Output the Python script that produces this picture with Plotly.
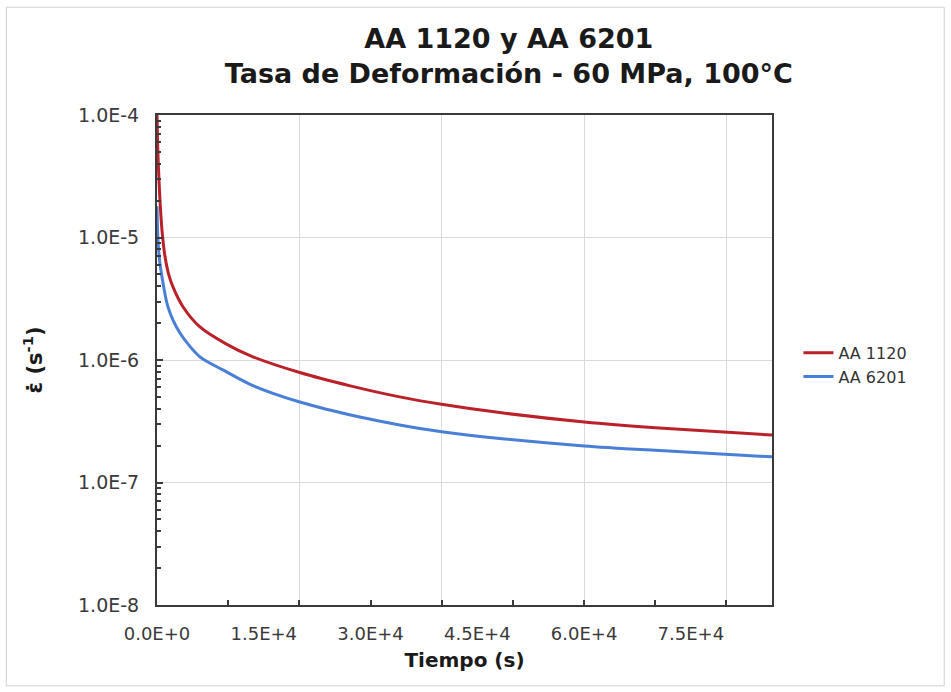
import plotly.graph_objects as go

# ---- data ----
t_1120 = [0, 100, 250, 421, 700, 1122, 1600, 2244, 3647, 6031, 9818, 13160, 20056, 27160,
          34081, 39972, 48160, 60028, 70000, 86400]
e_1120 = [1.0e-4, 5.5e-5, 3.2e-5, 2.0e-5, 1.15e-5, 7.0e-6, 5.1e-6, 3.95e-6, 2.72e-6, 1.86e-6,
          1.34e-6, 1.08e-6, 7.9e-7, 6.15e-7, 5.0e-7, 4.35e-7, 3.72e-7, 3.12e-7, 2.8e-7, 2.44e-7]

t_6201 = [0, 140, 400, 701, 1543, 3226, 6031, 9257, 13160, 20056, 28471, 34081, 39972,
          48160, 60028, 70000, 86400]
e_6201 = [1.8e-5, 9.5e-6, 6.2e-6, 4.76e-6, 2.71e-6, 1.66e-6, 1.06e-6, 8.3e-7, 6.3e-7, 4.54e-7,
          3.42e-7, 2.95e-7, 2.6e-7, 2.29e-7, 1.99e-7, 1.83e-7, 1.62e-7]

series_names = ["AA 1120", "AA 6201"]
series_colors = ["#BA2129", "#4A7FD6"]

x_range = [0, 86400]
x_label_vals = [0, 15000, 30000, 45000, 60000, 75000]
x_label_text = ["0.0E+0", "1.5E+4", "3.0E+4", "4.5E+4", "6.0E+4", "7.5E+4"]
x_tick_vals = [10000, 20000, 30000, 40000, 50000, 60000, 70000, 80000]
x_grid_vals = [20000, 40000, 60000, 80000]

y_tick_vals = [1e-8, 1e-7, 1e-6, 1e-5, 1e-4]
y_tick_text = ["1.0E-8", "1.0E-7", "1.0E-6", "1.0E-5", "1.0E-4"]
y_minor_vals = [m * d for d in [1e-8, 1e-7, 1e-6, 1e-5] for m in range(2, 10)]

FONT = "DejaVu Sans"
AXIS_COLOR = "#3a3a3a"
GRID_COLOR = "#DADADA"

fig = go.Figure()
for t, e, name, color in [(t_1120, e_1120, series_names[0], series_colors[0]),
                          (t_6201, e_6201, series_names[1], series_colors[1])]:
    fig.add_trace(go.Scatter(x=t, y=e, mode="lines", name=name,
                             line=dict(color=color, width=3, shape="spline", smoothing=0.8)))
# invisible trace to anchor the overlay axis that carries the small tick marks
fig.add_trace(go.Scatter(x=x_range, y=[1e-8, 1e-8], mode="lines", xaxis="x2",
                         line=dict(width=0), showlegend=False, hoverinfo="skip"))

fig.update_layout(
    width=951, height=692,
    margin=dict(l=157, r=179, t=115, b=87),
    paper_bgcolor="white", plot_bgcolor="white",
    font=dict(family=FONT, color="#333333", size=18),
    title=dict(text="<b>AA 1120 y AA 6201<br>Tasa de Deformación - 60 MPa, 100°C</b>",
               x=0.535, xref="container", xanchor="center",
               y=1 - 48 / 692, yref="container", yanchor="middle",
               font=dict(family=FONT, size=27, color="#1a1a1a")),
    xaxis=dict(range=x_range, tickvals=x_label_vals, ticktext=x_label_text,
               ticks="", showgrid=False, zeroline=False,
               showline=True, linecolor=AXIS_COLOR, linewidth=2, mirror=True,
               ticklabelstandoff=11,
               tickfont=dict(family=FONT, size=18, color="#3a3a3a"),
               minor=dict(tickvals=x_grid_vals, showgrid=True, gridcolor=GRID_COLOR,
                          gridwidth=1, ticks=""),
               title=dict(text="<b>Tiempo (s)</b>", standoff=10,
                          font=dict(family=FONT, size=20, color="#1a1a1a"))),
    xaxis2=dict(range=x_range, overlaying="x", side="bottom", anchor="y",
                tickvals=x_tick_vals, ticks="inside", ticklen=5, tickwidth=2,
                tickcolor=AXIS_COLOR, showticklabels=False, showgrid=False,
                zeroline=False, showline=False),
    yaxis=dict(type="log", range=[-8, -4], tickvals=y_tick_vals, ticktext=y_tick_text,
               ticks="inside", ticklen=6, tickwidth=1.5, tickcolor=AXIS_COLOR,
               showgrid=True, gridcolor=GRID_COLOR, gridwidth=1, zeroline=False,
               showline=True, linecolor=AXIS_COLOR, linewidth=2, mirror=True,
               ticklabelstandoff=12,
               tickfont=dict(family=FONT, size=19, color="#3a3a3a"),
               minor=dict(tickvals=y_minor_vals, ticks="inside", ticklen=4,
                          tickcolor=AXIS_COLOR, showgrid=False),
               title=dict(text="<b>ε̇ (s<sup>-1</sup>)</b>", standoff=30,
                          font=dict(family=FONT, size=21, color="#1a1a1a"))),
    legend=dict(x=1.043, y=0.49, xanchor="left", yanchor="middle",
                bgcolor="rgba(0,0,0,0)", borderwidth=0, tracegroupgap=0,
                itemwidth=30,
                font=dict(family=FONT, size=16, color="#333333")),
    shapes=[dict(type="rect", xref="paper", yref="paper",
                 x0=-0.245, x1=1.28, y0=-0.165, y1=1.22,
                 line=dict(color="#D0D0D0", width=1), fillcolor="rgba(0,0,0,0)",
                 layer="below")],
)

fig.write_html("out.html")
